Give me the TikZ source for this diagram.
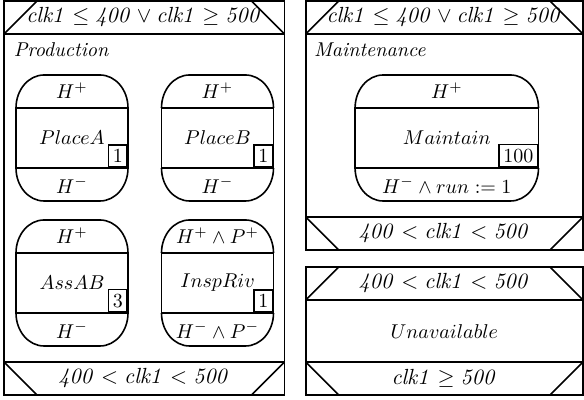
\documentclass[tikz,border=0pt]{standalone}
\usepackage{amssymb}
\usepackage{amsmath}
\usepackage{tikz}
\usetikzlibrary{positioning}

\begin{document}
\begin{tikzpicture}[x=1pt, y=1pt, thick,
    loc/.style={draw, minimum width=56pt, minimum height=30pt, inner sep=0pt, outer sep=0pt},
    sect/.style={minimum height=16.5pt, inner sep=0pt},
    guard/.style={draw, minimum width=138.6pt, minimum height=16.5pt, inner sep=0pt,
        outer sep=0pt, font=\fontsize{11}{13}\selectfont},
    cnt/.style={draw, inner sep=2.2pt, anchor=south east}]
    \useasboundingbox (0,0) rectangle (292,200);

    % Production
    \node[guard, minimum width=140.2pt] (prodIn) at (72.1,191.25)
        {$\mathit{clk1} \leq \mathit{400} \vee \mathit{clk1} \geq \mathit{500}$};
    \node[guard, minimum width=140.2pt] (prodOut) at (72.1,10.75)
        {$\mathit{400} < \mathit{clk1} < \mathit{500}$};
    \draw (prodIn.north west) rectangle (prodOut.south east);
    \node[anchor=base west, inner sep=0pt] (prodName) at (6.5,171.7) {\textit{Production}};

    \node[loc] (placeA) at (36,131) {$PlaceA$};
    \node[loc] (placeB) at (108.75,131) {$PlaceB$};
    \node[loc] (assAB) at (36,58.5) {$AssAB$};
    \node[loc] (inspRiv) at (108.75,58.5) {$InspRiv$};

    \node[sect, above=0pt of placeA] (placeA-h) {$H^+$};
    \node[sect, below=0pt of placeA] (placeA-l) {$H^-$};
    \node[sect, above=0pt of placeB] (placeB-h) {$H^+$};
    \node[sect, below=0pt of placeB] (placeB-l) {$H^-$};
    \node[sect, above=0pt of assAB] (assAB-h) {$H^+$};
    \node[sect, below=0pt of assAB] (assAB-l) {$H^-$};
    \node[sect, above=0pt of inspRiv] (inspRiv-h) {$H^+ \wedge P^+$};
    \node[sect, below=0pt of inspRiv] (inspRiv-l) {$H^- \wedge P^-$};

    \node[cnt] (placeA-c) at (placeA.south east) {1};
    \node[cnt] (placeB-c) at (placeB.south east) {1};
    \node[cnt] (assAB-c) at (assAB.south east) {3};
    \node[cnt] (inspRiv-c) at (inspRiv.south east) {1};

    % Maintenance
    \node[guard] (mntIn) at (222.2,191.25)
        {$\mathit{clk1} \leq \mathit{400} \vee \mathit{clk1} \geq \mathit{500}$};
    \node[guard] (mntOut) at (222.2,83.25)
        {$\mathit{400} < \mathit{clk1} < \mathit{500}$};
    \draw (mntIn.north west) rectangle (mntOut.south east);
    \node[anchor=base west, inner sep=0pt] (mntName) at (156.6,171.7) {\textit{Maintenance}};

    \node[loc, minimum width=91.7pt] (maintain) at (223.4,131) {$Maintain$};
    \node[sect, above=0pt of maintain] (maintain-h) {$H^+$};
    \node[sect, below=0pt of maintain] (maintain-l) {$H^- \wedge run := 1$};
    \node[cnt] (maintain-c) at (maintain.south east) {100};

    % Unavailable
    \node[guard] (unavIn) at (222.2,58.25)
        {$\mathit{400} < \mathit{clk1} < \mathit{500}$};
    \node[guard] (unavOut) at (222.2,10.75)
        {$\mathit{clk1} \geq \mathit{500}$};
    \draw (unavIn.north west) rectangle (unavOut.south east);
    \node (unav) at (222.2,34.25) {$Unavailable$};

    % rounded caps of the locations
    \foreach \n in {placeA,placeB,assAB,inspRiv,maintain} {
        \draw (\n.north west) arc[start angle=180, end angle=90, x radius=14pt, y radius=16.5pt]
            -- ([xshift=-14pt, yshift=16.5pt]\n.north east)
            arc[start angle=90, end angle=0, x radius=14pt, y radius=16.5pt];
        \draw (\n.south west) arc[start angle=180, end angle=270, x radius=14pt, y radius=16.5pt]
            -- ([xshift=-14pt, yshift=-16.5pt]\n.south east)
            arc[start angle=270, end angle=360, x radius=14pt, y radius=16.5pt];
    }

    % cut corners of the guards
    \foreach \g in {prodIn,mntIn,unavIn} {
        \draw (\g.south west) -- ([xshift=16.5pt]\g.north west);
        \draw (\g.south east) -- ([xshift=-16.5pt]\g.north east);
    }
    \foreach \g in {prodOut,mntOut,unavOut} {
        \draw (\g.north west) -- ([xshift=16.5pt]\g.south west);
        \draw (\g.north east) -- ([xshift=-16.5pt]\g.south east);
    }
\end{tikzpicture}
\end{document}
